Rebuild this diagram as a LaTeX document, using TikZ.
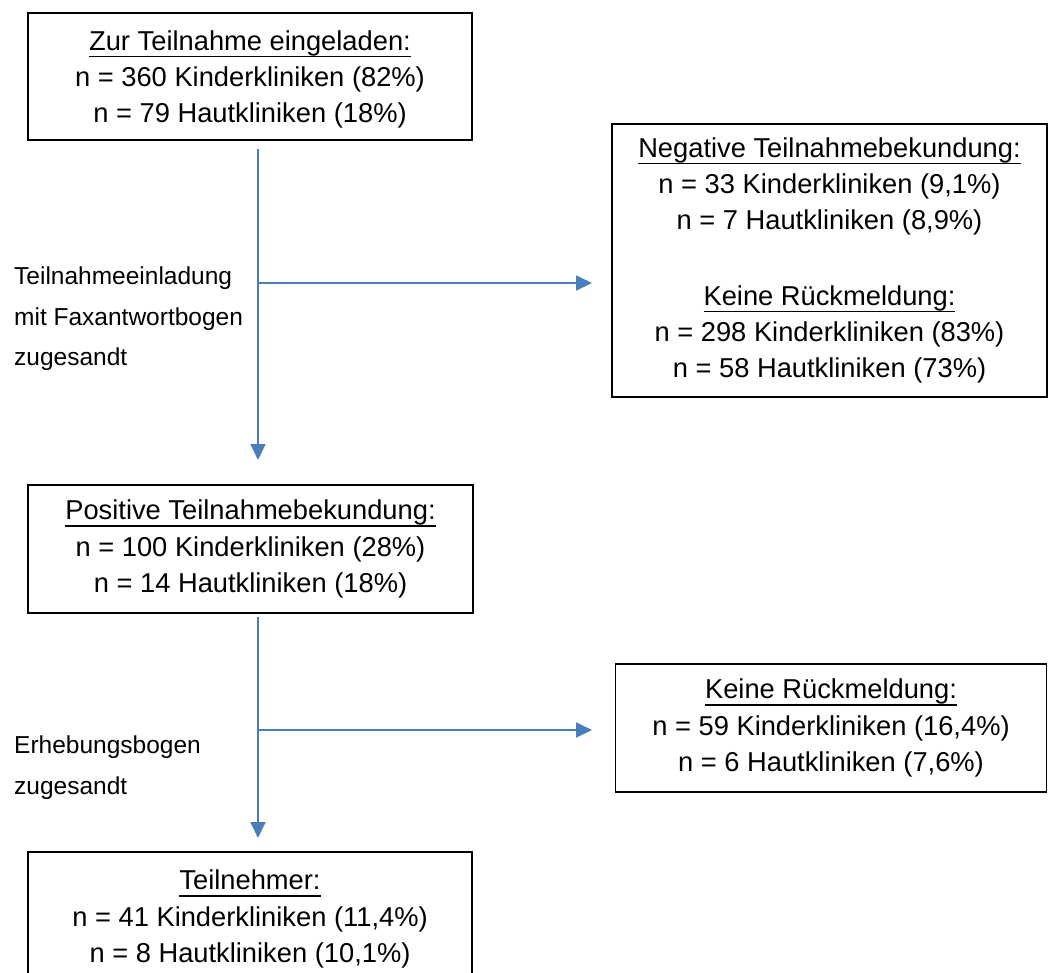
\documentclass[tikz,border=0pt]{standalone}
\usepackage{fontspec}
\setmainfont{Liberation Sans}
\usetikzlibrary{arrows.meta}
\definecolor{arrblue}{RGB}{74,126,187}
\newcommand{\myul}[1]{\leavevmode\setbox0\hbox{#1}\rlap{\vrule width\wd0 height -5.6pt depth 7pt}\box0}
\begin{document}
\begin{tikzpicture}[x=1pt,y=-1pt,
  box/.style={draw=black,line width=1.5pt,rectangle,inner sep=0pt,align=center,
    font=\fontsize{27.3}{36.3}\selectfont},
  lab/.style={align=left,anchor=west,inner sep=0pt,font=\fontsize{24.5}{40.5}\selectfont},
  arr/.style={draw=arrblue,line width=1.8pt,-{Triangle[length=16pt,width=15pt]}}]
\useasboundingbox (0,0) rectangle (1048,972);
\clip (0,0) rectangle (1048,972);

\node[box,minimum width=444pt,minimum height=127pt] (b1) at (250,76.5)
  {\rule{0pt}{26pt}\myul{Zur Teilnahme eingeladen:}\\ n = 360 Kinderkliniken (82\%)\\ n = 79 Hautkliniken (18\%)};

\node[box,minimum width=435pt,minimum height=273pt] (neg) at (829.5,260.5)
  {\myul{Negative Teilnahmebekundung:}\\ n = 33 Kinderkliniken (9,1\%)\\ n = 7 Hautkliniken (8,9\%)\\[39pt]
   \myul{Keine Rückmeldung:}\\ n = 298 Kinderkliniken (83\%)\\ n = 58 Hautkliniken (73\%)};

\node[box,minimum width=445pt,minimum height=128pt] (pos) at (250.5,549)
  {\myul{Positive Teilnahmebekundung:}\\ n = 100 Kinderkliniken (28\%)\\ n = 14 Hautkliniken (18\%)};

\node[box,minimum width=431pt,minimum height=128pt] (kr) at (831,728)
  {\myul{Keine Rückmeldung:}\\ n = 59 Kinderkliniken (16,4\%)\\ n = 6 Hautkliniken (7,6\%)};

\node[box,minimum width=444pt,minimum height=128pt] (tn) at (250,916)
  {\rule{0pt}{26pt}\myul{Teilnehmer:}\\ n = 41 Kinderkliniken (11,4\%)\\ n = 8 Hautkliniken (10,1\%)};

\node[lab] (l1) at (14,319) {Teilnahmeeinladung\\ mit Faxantwortbogen\\ zugesandt};
\node[lab] (l2) at (14,767.5) {Erhebungsbogen\\ zugesandt};

\coordinate (j1) at (258,283);
\coordinate (t1) at (258,460);
\coordinate (h1) at (592,283);
\coordinate (j2) at (258,730);
\coordinate (t2) at (258,838);
\coordinate (h2) at (592,730);

\draw[arr] ([yshift=-8pt]b1.south -| j1) -- (t1);
\draw[arr] (j1) -- (h1);
\draw[arr] ([yshift=-3pt]pos.south -| j2) -- (t2);
\draw[arr] (j2) -- (h2);
\end{tikzpicture}
\end{document}
